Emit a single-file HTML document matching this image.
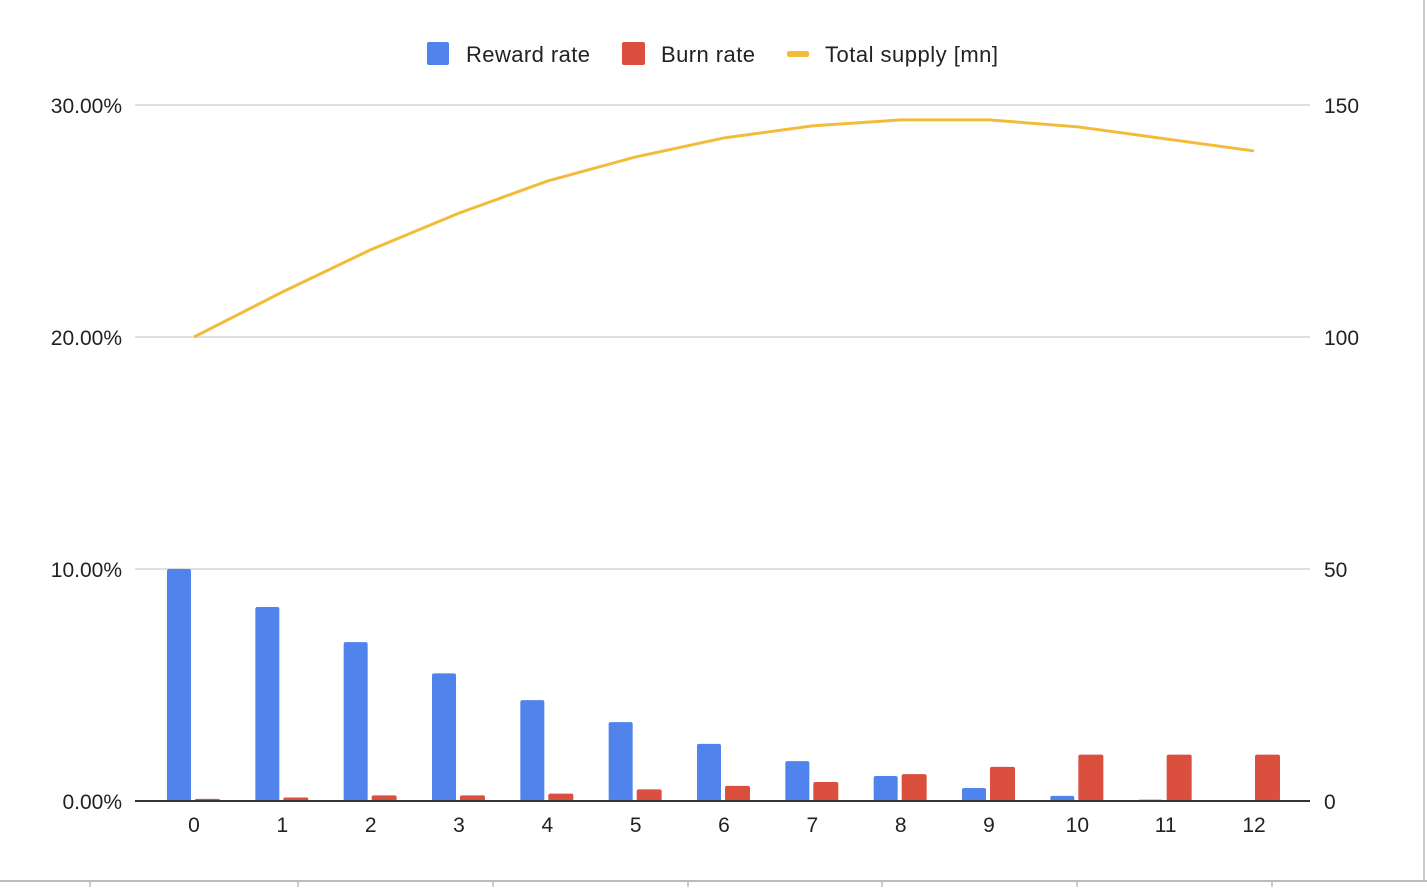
<!DOCTYPE html>
<html><head><meta charset="utf-8"><style>
body{margin:0;background:#fff;font-family:"Liberation Sans",Arial,sans-serif;}
svg text{font-family:"Liberation Sans",Arial,sans-serif;fill:#222;}
</style></head><body>
<svg id="chart" width="1427" height="887" xmlns="http://www.w3.org/2000/svg">
<rect x="0" y="0" width="1427" height="887" fill="#fff"/>
<line x1="1424" y1="0" x2="1424" y2="881" stroke="#ccc" stroke-width="2"/>
<line x1="0" y1="881" x2="1427" y2="881" stroke="#bbb" stroke-width="2"/>
<g id="grid"></g><g id="bars"></g><g id="line"></g><g id="axes"></g>
<g>
<g><rect x="427" y="42" width="22" height="23" rx="2" fill="#5083ec"/><text x="466" y="62" font-size="22" textLength="124">Reward rate</text></g>
<g><rect x="622" y="42" width="23" height="23" rx="2" fill="#da4f3e"/><text x="661" y="62" font-size="22" textLength="94">Burn rate</text></g>
<g><rect x="787" y="51" width="22" height="6" rx="2" fill="#f2bc3a"/><text x="825" y="62" font-size="22" textLength="173">Total supply [mn]</text></g>
</g>
</svg>
<script>
const categories=["0","1","2","3","4","5","6","7","8","9","10","11","12"];
const rewardRate=[10.0,8.36,6.85,5.5,4.35,3.4,2.46,1.72,1.08,0.56,0.22,0.06,0];
const burnRate=[0.09,0.15,0.24,0.24,0.32,0.5,0.65,0.82,1.16,1.47,2.0,2.0,2.0];
const totalSupply=[100,109.7,118.8,126.7,133.6,138.8,142.9,145.5,146.8,146.8,145.3,142.7,140.1];
const leftTicks=[0,10,20,30];
const leftTickLabels=["0.00%","10.00%","20.00%","30.00%"];
const rightTicks=[0,50,100,150];
const bottomTicks=[90,298,493,688,882,1077,1272];
const NS="http://www.w3.org/2000/svg";
const base=801,top0=105,left=135,right=1310;
const yL=v=>base-(v/30)*(base-top0);
const yR=v=>base-(v/150)*(base-top0);
const xC=i=>194+i*((1254-194)/12);
function mk(tag,attrs,parent){const e=document.createElementNS(NS,tag);for(const k in attrs)e.setAttribute(k,attrs[k]);parent.appendChild(e);return e;}
const grid=document.getElementById('grid'),bars=document.getElementById('bars'),lineG=document.getElementById('line'),axes=document.getElementById('axes');
leftTicks.forEach((t,i)=>{
  if(t>0){const g=mk('line',{x1:left,x2:right,y1:yL(t),y2:yL(t),stroke:'#d6d6d6','stroke-width':1.5},grid);
  
  }
  const tx=mk('text',{x:122,y:yL(t)+8,'font-size':21,'text-anchor':'end'},axes);tx.textContent=leftTickLabels[i];
  
  
});
rightTicks.forEach(t=>{
  const tx=mk('text',{x:1324,y:yR(t)+8,'font-size':21},axes);tx.textContent=String(t);
  
  
});
categories.forEach((c,i)=>{
  const cx=xC(i);
  const hb=base-yL(rewardRate[i]);
  if(hb>0.3){const b=mk('rect',{x:cx-27,y:yL(rewardRate[i]),width:24,height:hb,rx:2,fill:'#5083ec'},bars);
  
  }
  const hr=base-yL(burnRate[i]);
  const r=mk('rect',{x:cx+1,y:yL(burnRate[i]),width:25,height:hr,rx:2,fill:'#da4f3e'},bars);
  
  
  const tx=mk('text',{x:cx,y:832,'font-size':21,'text-anchor':'middle'},axes);tx.textContent=c;
  
  
});
const ax=mk('line',{x1:left,x2:right,y1:base,y2:base,stroke:'#333','stroke-width':2},axes);


bottomTicks.forEach(x=>{const t=mk('line',{x1:x,x2:x,y1:881,y2:887,stroke:'#bbb','stroke-width':1.5},axes);

});
let d='';
totalSupply.forEach((v,i)=>{d+=(i?'L':'M')+xC(i)+','+yR(v);});
const p=mk('path',{d:d,fill:'none',stroke:'#f2bc3a','stroke-width':3,'stroke-linejoin':'round'},lineG);


</script>
</body></html>
